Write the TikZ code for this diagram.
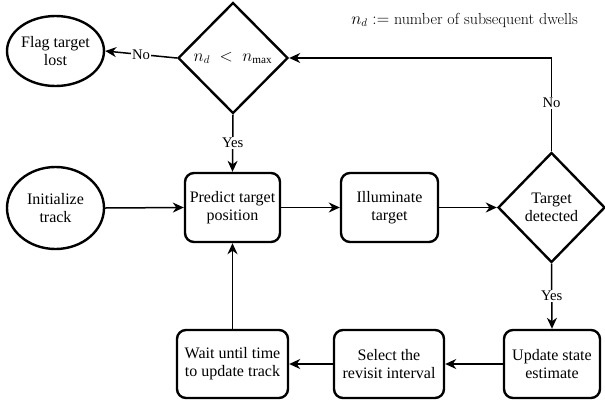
\documentclass[tikz,border=0pt]{standalone}
\usepackage{fontspec}
\setmainfont{Liberation Serif}
\usetikzlibrary{shapes.geometric,arrows.meta}
\begin{document}
\begin{tikzpicture}[x=1pt,y=-1pt,
  txt/.style={font=\fontsize{16}{18}\selectfont, align=center, inner sep=0pt},
  procbox/.style={txt, draw, line width=2.4pt, rounded corners=9pt, rectangle},
  termel/.style={txt, draw, line width=2.4pt, ellipse},
  decis/.style={txt, draw, line width=2.4pt, diamond, aspect=1},
  conn/.style={line width=1.5pt, -{Stealth[length=11pt,width=10pt,inset=3.5pt]}},
  lbl/.style={font=\fontsize{14.7}{16}\selectfont, fill=white, inner sep=1pt}
]
\useasboundingbox (0,0) rectangle (605,405);

\node[termel, minimum width=97pt, minimum height=70pt] (flag) at (55.5,51) {Flag target\\lost};
\node[decis, minimum width=110pt, minimum height=111pt] (dec1) at (233,58) {$n_d\;<\;n_{\max}$};
\node[anchor=east, inner sep=0pt, font=\fontsize{16}{18}\selectfont\fontfamily{lmr}\selectfont] (note) at (578,20) {$n_d :=$ number of subsequent dwells};

\node[termel, minimum width=97pt, minimum height=82pt] (init) at (55.5,208) {Initialize\\track};
\node[procbox, minimum width=95pt, minimum height=69pt] (pred) at (232.5,207.5) {Predict target\\position};
\node[procbox, minimum width=97pt, minimum height=69pt] (illum) at (389.5,207.5) {Illuminate\\target};
\node[decis, minimum width=107pt, minimum height=110pt] (det) at (551.5,207.5) {Target\\detected};

\node[procbox, minimum width=96pt, minimum height=68pt] (upd) at (552,364) {Update state\\estimate};
\node[procbox, minimum width=110pt, minimum height=68pt] (sel) at (389,364) {Select the\\revisit interval};
\node[procbox, minimum width=111pt, minimum height=68pt] (wait) at (232.5,364) {Wait until time\\to update track};

\draw[conn] (init.east) -- (pred.west);
\draw[conn] (pred.east) -- (illum.west);
\draw[conn] (illum.east) -- (det.west);
\draw[conn] (det.south) -- node[lbl] {Yes} (upd.north);
\draw[conn] (upd.west) -- (sel.east);
\draw[conn] (sel.west) -- (wait.east);
\draw[conn] (wait.north) -- (pred.south);
\draw[conn] (det.north) |- node[lbl, pos=0.26] {No} (dec1.east);
\draw[conn] (dec1.west) -- node[lbl] {No} (flag.east);
\draw[conn] (dec1.south) -- node[lbl] {Yes} (pred.north);
\end{tikzpicture}
\end{document}
